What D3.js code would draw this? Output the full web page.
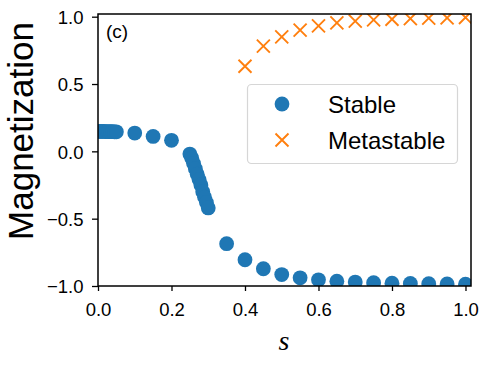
<!DOCTYPE html>
<html>
<head>
<meta charset="utf-8">
<script src="https://cdn.jsdelivr.net/npm/d3@7"></script>
<style>
  html, body { margin: 0; padding: 0; background: #fff; }
  svg { display: block; font-family: "Liberation Sans", Arial, sans-serif; }
</style>
</head>
<body>
<svg id="chart" width="486" height="365"></svg>
<script>
// stable branch (blue circles)
var stableS = [0, 0.005, 0.01, 0.015, 0.02, 0.025, 0.03, 0.035, 0.04, 0.045, 0.05,
  0.1, 0.15, 0.2,
  0.25, 0.255, 0.26, 0.265, 0.27, 0.275, 0.28, 0.285, 0.29, 0.295, 0.3,
  0.35, 0.4, 0.45, 0.5, 0.55, 0.6, 0.65, 0.7, 0.75, 0.8, 0.85, 0.9, 0.95, 1.0];
var stableM = [0.148, 0.148, 0.148, 0.148, 0.147, 0.147, 0.147, 0.146, 0.146, 0.145, 0.145,
  0.136, 0.111, 0.082,
  -0.02, -0.05, -0.09, -0.13, -0.17, -0.21, -0.25, -0.30, -0.34, -0.38, -0.42,
  -0.686, -0.805, -0.872, -0.915, -0.939, -0.954, -0.964, -0.971, -0.976, -0.979, -0.981, -0.983, -0.985, -0.986];

// metastable branch (orange crosses)
var metaS = [0.4, 0.45, 0.5, 0.55, 0.6, 0.65, 0.7, 0.75, 0.8, 0.85, 0.9, 0.95, 1.0];
var metaM = [0.632, 0.781, 0.85, 0.9, 0.932, 0.954, 0.967, 0.976, 0.981, 0.986, 0.989, 0.991, 0.994];

var xTicks = [0, 0.2, 0.4, 0.6, 0.8, 1.0];
var yTicks = [-1.0, -0.5, 0.0, 0.5, 1.0];
var legendLabels = ['Stable', 'Metastable'];

var blue = '#1f77b4', orange = '#ff7f0e';
var margin = {left: 98, right: 15, top: 14, bottom: 79};
var W = 486, H = 365;

var svg = d3.select('#chart');
var x = d3.scaleLinear().domain([0, 1.015]).range([margin.left, W - margin.right]);
var y = d3.scaleLinear().domain([-1.0, 1.02]).range([H - margin.bottom, margin.top]);

svg.append('clipPath').attr('id', 'plotclip')
  .append('rect')
  .attr('x', margin.left).attr('y', margin.top)
  .attr('width', W - margin.left - margin.right)
  .attr('height', H - margin.top - margin.bottom);

var plot = svg.append('g').attr('clip-path', 'url(#plotclip)');

plot.append('g').selectAll('circle')
  .data(d3.zip(stableS, stableM))
  .join('circle')
    .attr('cx', function(d) { return x(d[0]); })
    .attr('cy', function(d) { return y(d[1]); })
    .attr('r', 7.4)
    .attr('fill', blue);

function cross(sel, size) {
  sel.append('path')
    .attr('d', 'M' + (-size) + ',' + (-size) + 'L' + size + ',' + size +
               'M' + (-size) + ',' + size + 'L' + size + ',' + (-size))
    .attr('stroke', orange)
    .attr('stroke-width', 1.9)
    .attr('fill', 'none');
}

plot.append('g').selectAll('g')
  .data(d3.zip(metaS, metaM))
  .join('g')
    .attr('transform', function(d) { return 'translate(' + x(d[0]) + ',' + y(d[1]) + ')'; })
    .call(cross, 6.5);

// axes
var xAxis = svg.append('g')
  .attr('transform', 'translate(0,' + (H - margin.bottom) + ')')
  .call(d3.axisBottom(x).tickValues(xTicks).tickFormat(d3.format('.1f')).tickSize(5).tickPadding(12));
var yAxis = svg.append('g')
  .attr('transform', 'translate(' + margin.left + ',0)')
  .call(d3.axisLeft(y).tickValues(yTicks).tickFormat(function(d) { return d3.format('.1f')(d).replace('-', '\u2212'); }).tickSize(6).tickPadding(8.5));

[xAxis, yAxis].forEach(function(a) {
  a.select('.domain').remove();
  a.selectAll('line').attr('stroke', '#000').attr('stroke-width', 1.3);
  a.selectAll('text').attr('font-size', 18.5).attr('fill', '#000')
    .attr('font-family', '"Liberation Sans", Arial, sans-serif');
});
yAxis.selectAll('text').attr('dy', '0.36em');

// frame
svg.append('rect')
  .attr('x', margin.left).attr('y', margin.top)
  .attr('width', W - margin.left - margin.right)
  .attr('height', H - margin.top - margin.bottom)
  .attr('fill', 'none').attr('stroke', '#000').attr('stroke-width', 1.5);

// panel tag
svg.append('text').attr('x', 106).attr('y', 38)
  .attr('font-size', 19).text('(c)');

// axis labels
svg.append('text')
  .attr('transform', 'translate(33,131) rotate(-90)')
  .attr('text-anchor', 'middle')
  .attr('font-size', 35)
  .text('Magnetization');

svg.append('text')
  .attr('x', 284).attr('y', 350)
  .attr('text-anchor', 'middle')
  .attr('font-family', '"Liberation Serif", "DejaVu Serif", serif')
  .attr('font-style', 'italic')
  .attr('font-size', 28)
  .text('s');

// legend
var legend = svg.append('g');
legend.append('rect')
  .attr('x', 247.5).attr('y', 84.5).attr('width', 210).attr('height', 79)
  .attr('rx', 4).attr('fill', '#fff').attr('fill-opacity', 0.8)
  .attr('stroke', '#d6d6d6').attr('stroke-width', 1.2);
legend.append('circle').attr('cx', 282).attr('cy', 104).attr('r', 7.4).attr('fill', blue);
legend.append('g').attr('transform', 'translate(282,140)').call(cross, 6.5);
legend.selectAll('text.lab')
  .data(legendLabels)
  .join('text')
    .attr('class', 'lab')
    .attr('x', 328)
    .attr('y', function(d, i) { return 104 + i * 36; })
    .attr('dy', '0.36em')
    .attr('font-size', 24)
    .text(function(d) { return d; });
</script>
</body>
</html>
